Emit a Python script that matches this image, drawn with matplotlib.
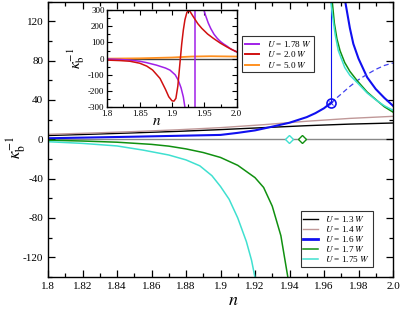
import matplotlib
matplotlib.use("Agg")
import matplotlib.pyplot as plt
from matplotlib.ticker import MultipleLocator, FixedLocator
from matplotlib.lines import Line2D

plt.rcParams['font.family'] = ['Liberation Serif', 'DejaVu Serif']
plt.rcParams['mathtext.fontset'] = 'stix'
plt.rcParams['axes.unicode_minus'] = False

# ---------------- main panel data ----------------
n_13 = [1.80, 1.825, 1.85, 1.875, 1.90, 1.925, 1.95, 1.975, 2.00]
k_13 = [3.8, 5.1, 6.5, 8.0, 9.8, 11.8, 13.8, 15.4, 16.5]

n_14 = [1.80, 1.825, 1.85, 1.875, 1.90, 1.925, 1.95, 1.975, 2.00]
k_14 = [5.0, 6.3, 7.8, 9.6, 11.8, 14.8, 18.3, 21.2, 23.3]

n_16a = [1.80, 1.825, 1.85, 1.875, 1.90, 1.91, 1.92, 1.93, 1.94, 1.95, 1.955, 1.96, 1.964]
k_16a = [1.0, 1.8, 2.6, 3.5, 4.4, 6.5, 9.0, 12.8, 16.8, 22.5, 26.5, 31.5, 37.0]
n_16dash = [1.964, 1.97, 1.975, 1.98, 1.985, 1.99, 1.995, 2.00]
k_16dash = [37.0, 46.0, 53.7, 60.5, 66.0, 71.0, 75.0, 77.5]
n_16b = [1.9718, 1.975, 1.977, 1.98, 1.985, 1.99, 1.995, 2.00]
k_16b = [145.0, 113.0, 97.0, 82.0, 63.0, 51.0, 42.0, 34.0]
n_16_jump = 1.964
k_16_jump = [37.0, 140.0]

n_17a = [1.80, 1.82, 1.84, 1.86, 1.87, 1.88, 1.89, 1.90, 1.91, 1.92, 1.925, 1.93, 1.935, 1.9395]
k_17a = [-1.0, -1.8, -3.0, -5.2, -7.0, -9.8, -13.5, -18.5, -26.5, -39.0, -49.0, -68.0, -98.0, -145.0]
n_17b = [1.9645, 1.966, 1.9675, 1.9693, 1.972, 1.975, 1.979, 1.985, 1.9906, 1.995, 2.00]
k_17b = [145.0, 118.0, 102.0, 90.0, 78.0, 69.0, 60.0, 48.0, 39.5, 33.0, 27.6]

n_175a = [1.80, 1.82, 1.84, 1.855, 1.87, 1.88, 1.888, 1.895, 1.90, 1.905, 1.91, 1.915, 1.918, 1.9205]
k_175a = [-2.5, -4.2, -6.8, -11.0, -16.0, -21.0, -27.0, -37.0, -48.0, -61.0, -80.0, -104.0, -123.0, -145.0]
n_175b = [1.9636, 1.965, 1.9665, 1.9683, 1.972, 1.975, 1.979, 1.985, 1.99, 1.995, 2.00]
k_175b = [145.0, 125.0, 106.0, 90.0, 73.0, 65.0, 58.0, 47.0, 40.0, 34.0, 29.5]

n_diamond = [1.9397, 1.947]

# ---------------- inset data ----------------
n_178a = [1.80, 1.82, 1.835, 1.85, 1.86, 1.876, 1.89, 1.897, 1.905, 1.9097, 1.914, 1.9175, 1.920, 1.9205]
k_178a = [-2.0, -5.0, -9.0, -16.0, -24.0, -40.0, -58.0, -71.0, -100.0, -133.0, -180.0, -236.0, -300.0, -320.0]
n_178_jump = 1.9355
n_178b = [1.9485, 1.952, 1.956, 1.96, 1.965, 1.97, 1.975, 1.98, 1.985, 1.99, 1.995, 2.00]
k_178b = [310.0, 265.0, 220.0, 185.0, 150.0, 125.0, 105.0, 90.0, 77.0, 62.0, 51.0, 42.0]

n_20 = [1.80, 1.82, 1.835, 1.85, 1.861, 1.87, 1.8815, 1.89, 1.895, 1.90, 1.903, 1.906, 1.909,
        1.912, 1.915, 1.9175, 1.92, 1.923, 1.9252, 1.928, 1.933, 1.94, 1.946, 1.955, 1.964,
        1.975, 1.9845, 1.992, 2.00]
k_20 = [-9.0, -12.0, -16.0, -28.0, -46.0, -70.0, -122.0, -190.0, -235.0, -260.0, -262.0, -245.0, -170.0,
        -40.0, 90.0, 176.0, 240.0, 285.0, 296.0, 290.0, 258.0, 215.0, 187.0, 152.0, 125.0,
        95.0, 73.0, 57.0, 42.0]

n_50 = [1.80, 1.85, 1.90, 1.93, 1.96, 2.00]
k_50 = [0.0, 2.0, 7.0, 13.0, 15.0, 13.0]

labels_main = ['$U$ = 1.3 $W$', '$U$ = 1.4 $W$', '$U$ = 1.6 $W$', '$U$ = 1.7 $W$', '$U$ = 1.75 $W$']
labels_inset = ['$U$ = 1.78 $W$', '$U$ = 2.0 $W$', '$U$ = 5.0 $W$']

c13, c14, c16, c17, c175 = 'black', '#c09898', '#1010f0', '#109010', '#40e0d0'
c178, c20, c50 = '#a020e8', '#d01010', '#ff9020'

fig = plt.figure(figsize=(4.03, 3.10), dpi=100)
ax = fig.add_axes([48/403, 1-277/310, 345/403, (277-1.5)/310])

ax.axhline(0, color='#888888', lw=1.0, zorder=1)
ax.plot(n_13, k_13, color=c13, lw=1.0)
ax.plot(n_14, k_14, color=c14, lw=1.0)
ax.plot(n_16a, k_16a, color=c16, lw=1.5)
ax.plot(n_16b, k_16b, color=c16, lw=1.5)
ax.plot(n_16dash, k_16dash, color='#4040f0', lw=0.9, ls=(0, (4, 2.5)))
ax.plot([n_16_jump, n_16_jump], k_16_jump, color=c16, lw=0.8)
ax.plot(n_17a, k_17a, color=c17, lw=1.1)
ax.plot(n_17b, k_17b, color=c17, lw=1.1)
ax.plot(n_175a, k_175a, color=c175, lw=1.1)
ax.plot(n_175b, k_175b, color=c175, lw=1.1)
ax.plot([n_16_jump], [k_16_jump[0]], marker='o', ms=6.5, mfc='none', mec=c16, mew=1.2, zorder=5)
ax.plot([n_16_jump], [k_16_jump[0]], marker='x', ms=2.5, mec=c16, mew=0.6, zorder=5)
ax.plot([n_diamond[0]], [0], marker='D', ms=4.5, mfc='white', mec=c175, mew=1.0, zorder=5)
ax.plot([n_diamond[1]], [0], marker='D', ms=4.5, mfc='white', mec=c17, mew=1.0, zorder=5)

ax.set_xlim(1.8, 2.0)
ax.set_ylim(-140, 140)
ax.xaxis.set_major_locator(FixedLocator([1.8, 1.82, 1.84, 1.86, 1.88, 1.9, 1.92, 1.94, 1.96, 1.98, 2.0]))
ax.set_xticklabels(['1.8', '1.82', '1.84', '1.86', '1.88', '1.9', '1.92', '1.94', '1.96', '1.98', '2.0'])
ax.xaxis.set_minor_locator(MultipleLocator(0.01))
ax.yaxis.set_major_locator(MultipleLocator(40))
ax.yaxis.set_minor_locator(MultipleLocator(20))
ax.tick_params(which='both', direction='in', top=True, right=True, labelsize=8, width=0.9)
ax.tick_params(which='major', length=5)
ax.tick_params(which='minor', length=2.8)
for s in ax.spines.values():
    s.set_linewidth(1.0)
fig.text(233/403, 1-305/310, '$n$', ha='center', va='baseline', fontsize=13)
ax.set_ylabel(r'$\kappa_{\mathrm{b}}^{-1}$', fontsize=12)
ax.yaxis.set_label_coords(-0.058, 0.47)

h_main = [Line2D([], [], color=c13, lw=1.0), Line2D([], [], color=c14, lw=1.0),
          Line2D([], [], color=c16, lw=2.0), Line2D([], [], color=c17, lw=1.1),
          Line2D([], [], color=c175, lw=1.1)]
leg1 = ax.legend(h_main, labels_main, loc='upper left', bbox_to_anchor=(300.7/403, 1-211/310),
                 bbox_transform=fig.transFigure, fontsize=6.6, frameon=True, fancybox=False,
                 edgecolor='black', handlelength=1.6, handletextpad=0.8, labelspacing=0.0,
                 borderpad=0.3, borderaxespad=0, handleheight=0.6)
leg1.get_frame().set_linewidth(0.8)
ax.add_artist(leg1)
h_in = [Line2D([], [], color=c178, lw=1.4), Line2D([], [], color=c20, lw=1.4),
        Line2D([], [], color=c50, lw=1.4)]
leg2 = ax.legend(h_in, labels_inset, loc='upper left', bbox_to_anchor=(242/403, 1-36/310),
                 bbox_transform=fig.transFigure, fontsize=6.6, frameon=True, fancybox=False,
                 edgecolor='black', handlelength=1.6, handletextpad=0.8, labelspacing=0.05,
                 borderpad=0.3, borderaxespad=0, handleheight=0.6)
leg2.get_frame().set_linewidth(0.8)

# ---------------- inset ----------------
ia = fig.add_axes([107.3/403, 1-107.3/310, 129.4/403, 97.3/310])
ia.axhline(0, color='#444444', lw=1.0, zorder=1)
ia.plot(n_50, k_50, color=c50, lw=1.3)
ia.plot(n_178a, k_178a, color=c178, lw=1.1)
ia.plot(n_178b, k_178b, color=c178, lw=1.1)
ia.plot([n_178_jump, n_178_jump], [-300, 300], color=c178, lw=1.1)
ia.plot(n_20, k_20, color=c20, lw=1.1)
ia.set_xlim(1.8, 2.0)
ia.set_ylim(-300, 300)
ia.xaxis.set_major_locator(FixedLocator([1.8, 1.85, 1.9, 1.95, 2.0]))
ia.set_xticklabels(['1.8', '1.85', '1.9', '1.95', '2.0'])
ia.xaxis.set_minor_locator(MultipleLocator(0.025))
ia.yaxis.set_major_locator(MultipleLocator(100))
ia.yaxis.set_minor_locator(MultipleLocator(50))
ia.tick_params(which='both', direction='in', top=True, right=True, labelsize=6.5, width=0.8, pad=2)
ia.tick_params(which='major', length=3.5)
ia.tick_params(which='minor', length=2)
for s in ia.spines.values():
    s.set_linewidth(1.0)
fig.text(157/403, 1-125/310, '$n$', ha='center', va='baseline', fontsize=11)
ia.set_ylabel(r'$\kappa_{\mathrm{b}}^{-1}$', fontsize=11)
ia.yaxis.set_label_coords(-0.16, 0.5)

fig.savefig('out.png', dpi=100)
